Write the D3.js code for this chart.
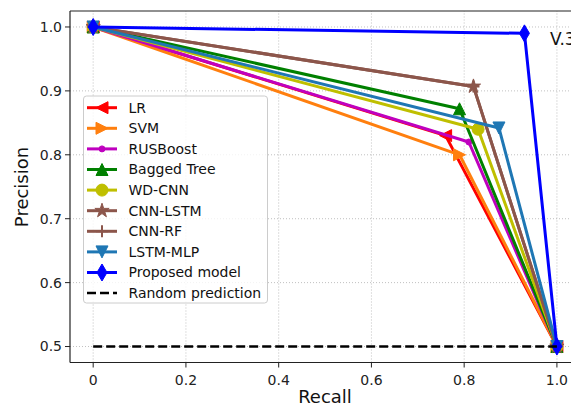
<!DOCTYPE html>
<html><head><meta charset="utf-8">
<script src="https://cdn.jsdelivr.net/npm/d3@7"></script>
<style>body{margin:0;background:#fff}svg{display:block;font-family:"DejaVu Sans",sans-serif}</style>
</head><body><svg id="c" width="571" height="407"></svg>
<script>
const models = ["LR","SVM","RUSBoost","Bagged Tree","WD-CNN","CNN-LSTM","CNN-RF","LSTM-MLP","Proposed model"];
const colors = ["#ff0000","#ff7f0e","#bf00bf","#008000","#bfbf00","#8c564b","#8c564b","#1f77b4","#0000ff"];
const markers = ["left","right","point","up","circle","star","plus","down","diamond"];
const recall = [
  [0,0.76,1],[0,0.79,1],[0,0.81,1],[0,0.79,1],[0,0.83,1],[0,0.82,1],[0,0.82,1],[0,0.875,1],[0,0.93,1]
];
const precision = [
  [1,0.83,0.5],[1,0.80,0.5],[1,0.82,0.5],[1,0.872,0.5],[1,0.84,0.5],[1,0.907,0.5],[1,0.907,0.5],[1,0.842,0.5],[1,0.99,0.5]
];
const randomRecall = [0,1];
const randomPrecision = [0.5,0.5];
const xTicks = [0,0.2,0.4,0.6,0.8,1.0];
const xTickLabels = ["0","0.2","0.4","0.6","0.8","1.0"];
const yTicks = [0.5,0.6,0.7,0.8,0.9,1.0];

const svg = d3.select("#c");
const x = d3.scaleLinear().domain([-0.05,1.05]).range([70,580.1]);
const y = d3.scaleLinear().domain([0.475,1.025]).range([362.5,11]);

// grid
const g = svg.append("g");
g.selectAll(".gx").data(xTicks).join("line").attr("x1",d=>x(d)).attr("x2",d=>x(d)).attr("y1",y(0.475)).attr("y2",y(1.025))
 .attr("stroke","#b0b0b0").attr("stroke-width",0.8).attr("stroke-dasharray","1,2");
g.selectAll(".gy").data(yTicks).join("line").attr("y1",d=>y(d)).attr("y2",d=>y(d)).attr("x1",x(-0.05)).attr("x2",x(1.05))
 .attr("stroke","#b0b0b0").attr("stroke-width",0.8).attr("stroke-dasharray","1,2");

function markerPath(type){
  const p = d3.path();
  const r = 6;
  switch(type){
    case "up": p.moveTo(0,-r);p.lineTo(r,r);p.lineTo(-r,r);p.closePath();break;
    case "down": p.moveTo(0,r);p.lineTo(r,-r);p.lineTo(-r,-r);p.closePath();break;
    case "left": p.moveTo(-r,0);p.lineTo(r,-r);p.lineTo(r,r);p.closePath();break;
    case "right": p.moveTo(r,0);p.lineTo(-r,-r);p.lineTo(-r,r);p.closePath();break;
    case "circle": p.arc(0,0,6,0,2*Math.PI);break;
    case "point": p.arc(0,0,3,0,2*Math.PI);break;
    case "diamond": p.moveTo(0,-8.5);p.lineTo(5,0);p.lineTo(0,8.5);p.lineTo(-5,0);p.closePath();break;
    case "star": {
      const R=7.5, ri=R*0.381966;
      for(let i=0;i<10;i++){const rr=i%2?ri:R;const a=-Math.PI/2+i*Math.PI/5;
        if(i===0)p.moveTo(rr*Math.cos(a),rr*Math.sin(a));else p.lineTo(rr*Math.cos(a),rr*Math.sin(a));}
      p.closePath();break;}
    case "plus": p.moveTo(-6,0);p.lineTo(6,0);p.moveTo(0,-6);p.lineTo(0,6);break;
  }
  return p.toString();
}
function drawMarker(sel,type,color,cx,cy){
  sel.append("path").attr("d",markerPath(type)).attr("transform",`translate(${cx},${cy})`)
    .attr("fill",type==="plus"?"none":color).attr("stroke",color).attr("stroke-width",type==="plus"?2:1);
}

const line = d3.line().x(d=>x(d[0])).y(d=>y(d[1]));
const lg = svg.append("g");
models.forEach((m,i)=>{
  const pts = recall[i].map((r,j)=>[r,precision[i][j]]);
  const s = lg.append("g");
  s.append("path").attr("d",line(pts)).attr("fill","none").attr("stroke",colors[i]).attr("stroke-width",3).attr("stroke-linejoin","round");
  pts.forEach(p=>drawMarker(s,markers[i],colors[i],x(p[0]),y(p[1])));
});
// random line
lg.append("path").attr("d",line(randomRecall.map((r,j)=>[r,randomPrecision[j]]))).attr("fill","none")
  .attr("stroke","#000").attr("stroke-width",2.5).attr("stroke-dasharray","9,4");

// spines
svg.append("line").attr("x1",70).attr("x2",571).attr("y1",11).attr("y2",11).attr("stroke","#222").attr("stroke-width",1.2);
svg.append("line").attr("x1",70).attr("x2",571).attr("y1",362.5).attr("y2",362.5).attr("stroke","#222").attr("stroke-width",1.2);
svg.append("line").attr("x1",70).attr("x2",70).attr("y1",11).attr("y2",362.5).attr("stroke","#222").attr("stroke-width",1.2);

// ticks
svg.selectAll(".xt").data(xTicks).join("line").attr("x1",d=>x(d)).attr("x2",d=>x(d)).attr("y1",362.5).attr("y2",367.5).attr("stroke","#222");
svg.selectAll(".xl").data(xTicks).join("text").attr("x",d=>x(d)).attr("y",385).attr("text-anchor","middle")
  .attr("font-size",14).attr("fill","#222").text((d,i)=>xTickLabels[i]);
svg.selectAll(".yt").data(yTicks).join("line").attr("y1",d=>y(d)).attr("y2",d=>y(d)).attr("x1",65).attr("x2",70).attr("stroke","#222");
svg.selectAll(".yl").data(yTicks).join("text").attr("x",62).attr("y",d=>y(d)).attr("dy","0.35em").attr("text-anchor","end")
  .attr("font-size",14).attr("fill","#222").text(d=>d.toFixed(1));

svg.append("text").attr("x",325).attr("y",403).attr("text-anchor","middle").attr("font-size",18).attr("fill","#111").text("Recall");
svg.append("text").attr("transform","translate(28,187) rotate(-90)").attr("text-anchor","middle").attr("font-size",18).attr("fill","#111").text("Precision");

svg.append("text").attr("x",x(0.985)).attr("y",y(0.972)).attr("font-size",17).attr("fill","#111").text("V.3");

// legend
const leg = svg.append("g");
leg.append("rect").attr("x",83.5).attr("y",96).attr("width",184).attr("height",207).attr("rx",3)
  .attr("fill","#fff").attr("fill-opacity",0.8).attr("stroke","#ccc");
const legNames = models.concat(["Random prediction"]);
legNames.forEach((n,i)=>{
  const yy = 107.7 + i*20.6;
  if(i<models.length){
    leg.append("line").attr("x1",87).attr("x2",117).attr("y1",yy).attr("y2",yy).attr("stroke",colors[i]).attr("stroke-width",3);
    drawMarker(leg,markers[i],colors[i],102,yy);
  } else {
    leg.append("line").attr("x1",87).attr("x2",117).attr("y1",yy).attr("y2",yy).attr("stroke","#000").attr("stroke-width",2.5).attr("stroke-dasharray","9,4");
  }
  leg.append("text").attr("x",128.5).attr("y",yy).attr("dy","0.35em").attr("font-size",14).attr("fill","#111").text(n);
});
</script></body></html>
